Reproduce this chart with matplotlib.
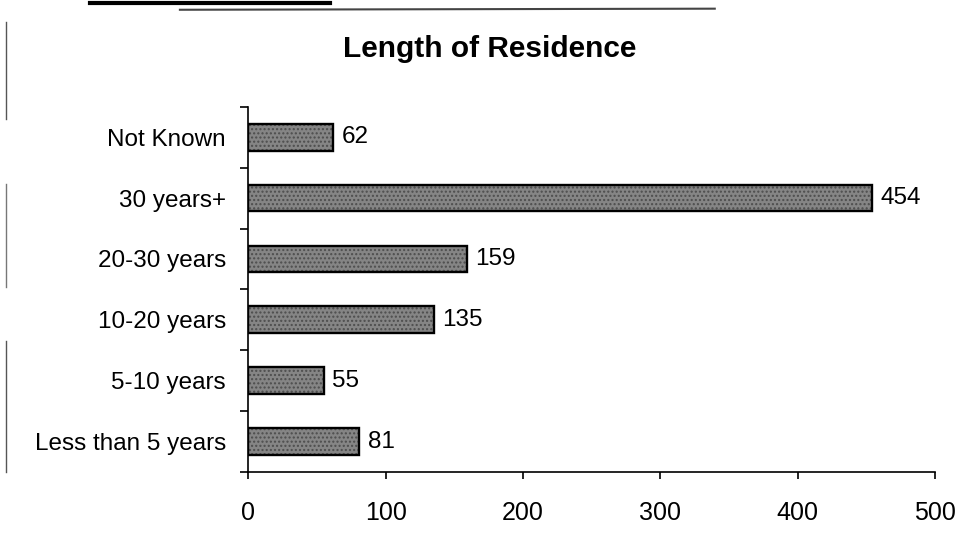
import matplotlib.pyplot as plt
from matplotlib.lines import Line2D
import numpy as np

plt.rcParams['font.family'] = ['Liberation Sans', 'DejaVu Sans']

# data, bottom to top
categories = ['Less than 5 years', '5-10 years', '10-20 years',
              '20-30 years', '30 years+', 'Not Known']
counts = [81, 55, 135, 159, 454, 62]
x_ticks = [0, 100, 200, 300, 400, 500]

fig = plt.figure(figsize=(9.62, 5.42), dpi=100)
ax = fig.add_axes([0.258, 0.129, 0.714, 0.674])

y = np.arange(len(categories))
bars = ax.barh(y, counts, height=0.44, color='#858585', edgecolor='black',
               linewidth=1.7, hatch='....')
for b in bars:
    b._hatch_color = (0.3, 0.3, 0.3, 1.0)

# value labels
for yi, v in zip(y, counts):
    ax.text(v + 6, yi, str(v), va='center', ha='left', fontsize=17.5)

ax.set_xlim(0, 500)
ax.set_ylim(-0.5, len(categories) - 0.5)
ax.set_xticks(x_ticks)
ax.set_xticklabels([str(t) for t in x_ticks], fontsize=18)
ax.set_yticks(y)
ax.set_yticklabels(categories, fontsize=17.5)
ax.set_yticks(np.arange(-0.5, len(categories)), minor=True)
ax.tick_params(axis='y', which='major', length=0, pad=16)
ax.tick_params(axis='y', which='minor', length=6, width=1.2, direction='out')
ax.tick_params(axis='x', length=5, width=1.2, direction='out', pad=16)

for s in ['top', 'right']:
    ax.spines[s].set_visible(False)
ax.spines['left'].set_linewidth(1.2)
ax.spines['bottom'].set_linewidth(1.2)

fig.text(0.509, 0.91, 'Length of Residence', ha='center', va='center',
         fontsize=21.5, fontweight='bold')

# scan artifacts along the page edge
fig.add_artist(Line2D([0.094, 0.343], [0.995, 0.995], color='black', lw=3))
fig.add_artist(Line2D([0.187, 0.743], [0.982, 0.984], color='#444444', lw=1.5))
fig.add_artist(Line2D([0.006, 0.006], [0.78, 0.96], color='#555555', lw=1))
fig.add_artist(Line2D([0.006, 0.006], [0.47, 0.66], color='#777777', lw=1))
fig.add_artist(Line2D([0.006, 0.006], [0.13, 0.37], color='#555555', lw=1))

fig.savefig('out.png', dpi=100, facecolor='white')
